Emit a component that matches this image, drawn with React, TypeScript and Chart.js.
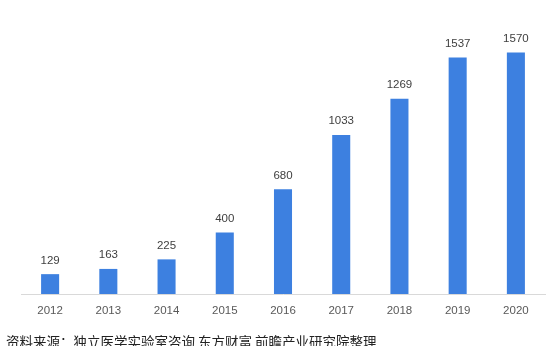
import React, { useEffect, useRef } from "react";
import { Chart, registerables } from "chart.js";

Chart.register(...registerables);

const years = ["2012", "2013", "2014", "2015", "2016", "2017", "2018", "2019", "2020"];
const values = [129, 163, 225, 400, 680, 1033, 1269, 1537, 1570];
const yMax = 1800;
const sourceText = "资料来源：独立医学实验室咨询 东方财富 前瞻产业研究院整理";

const valueLabels = {
  id: "valueLabels",
  afterDatasetsDraw(chart: any) {
    const ctx = chart.ctx;
    const meta = chart.getDatasetMeta(0);
    ctx.save();
    ctx.font = "11.5px 'Liberation Sans', Arial, sans-serif";
    ctx.fillStyle = "#404040";
    ctx.textAlign = "center";
    ctx.textBaseline = "bottom";
    meta.data.forEach((bar: any, i: number) => {
      ctx.fillText(String(values[i]), bar.x, bar.y - 8);
    });
    ctx.restore();
  },
};

export default function App() {
  const ref = useRef<HTMLCanvasElement>(null);
  useEffect(() => {
    if (!ref.current) return;
    const chart = new Chart(ref.current, {
      type: "bar",
      data: {
        labels: years,
        datasets: [
          {
            data: values,
            backgroundColor: "#3d80e0",
            barPercentage: 0.31,
            categoryPercentage: 1,
          },
        ],
      },
      options: {
        responsive: false,
        animation: false,
        layout: { padding: { left: 21, right: 10, top: 17, bottom: 0 } },
        plugins: { legend: { display: false }, tooltip: { enabled: false } },
        scales: {
          x: {
            grid: { display: false, drawTicks: false },
            border: { display: true, color: "#d9d9d9" },
            ticks: {
              color: "#595959",
              font: { family: "'Liberation Sans', Arial, sans-serif", size: 11.5 },
              padding: 10,
              maxRotation: 0,
            },
            afterFit: (axis: any) => {
              axis.height = 52;
            },
          },
          y: {
            display: false,
            min: 0,
            max: yMax,
          },
        },
      },
      plugins: [valueLabels],
    });
    return () => chart.destroy();
  }, []);

  return (
    <div
      style={{
        position: "absolute",
        left: 0,
        top: 0,
        width: 555,
        height: 346,
        overflow: "hidden",
        background: "#fff",
      }}
    >
      <canvas ref={ref} width={555} height={346} style={{ display: "block" }} />
      <div
        style={{
          position: "absolute",
          left: 6,
          top: 333,
          fontFamily: "'Noto Sans CJK SC', sans-serif",
          fontSize: 13.5,
          lineHeight: "16px",
          color: "#222",
          whiteSpace: "nowrap",
        }}
      >
        {sourceText}
      </div>
    </div>
  );
}
